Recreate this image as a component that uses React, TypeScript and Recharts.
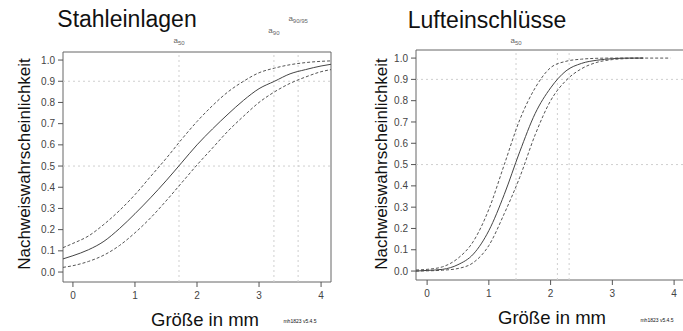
import React from 'react';
import { LineChart, Line, XAxis, YAxis, ReferenceLine, ReferenceArea } from 'recharts';

// Stahleinlagen (left panel)
const stahlX = [-0.16, 0, 0.25, 0.5, 0.75, 1, 1.25, 1.5, 1.75, 2, 2.25, 2.5, 2.75, 3, 3.25, 3.5, 3.75, 4, 4.16];
const stahlFit = [0.062, 0.077, 0.105, 0.145, 0.205, 0.275, 0.35, 0.43, 0.515, 0.6, 0.675, 0.745, 0.81, 0.865, 0.9, 0.935, 0.955, 0.972, 0.98];
const stahlUpper = [0.115, 0.135, 0.17, 0.225, 0.29, 0.365, 0.45, 0.535, 0.625, 0.71, 0.785, 0.85, 0.9, 0.94, 0.962, 0.978, 0.988, 0.994, 0.996];
const stahlLower = [0.022, 0.03, 0.05, 0.08, 0.125, 0.185, 0.255, 0.335, 0.42, 0.505, 0.585, 0.665, 0.735, 0.8, 0.85, 0.89, 0.92, 0.945, 0.955];
const stahlMarks = [
  { x: 1.71, sub: '50', lift: 9 },
  { x: 3.24, sub: '90', lift: 19 },
  { x: 3.63, sub: '90/95', lift: 31 },
];

// Lufteinschlüsse (right panel)
const luftX = [-0.18, 0, 0.25, 0.5, 0.75, 1, 1.25, 1.5, 1.75, 2, 2.25, 2.5, 2.75, 3, 3.25, 3.5, 3.94];
const luftFit = [0.0, 0.003, 0.008, 0.03, 0.08, 0.19, 0.36, 0.56, 0.74, 0.86, 0.94, 0.975, 0.99, 0.997, 1.0, 1.0, null];
const luftUpper = [0.005, 0.008, 0.02, 0.06, 0.14, 0.29, 0.5, 0.71, 0.86, 0.955, 0.985, 0.995, 0.999, 1.0, 1.0, 1.0, 1.0];
const luftLower = [0.0, 0.001, 0.004, 0.012, 0.04, 0.12, 0.27, 0.44, 0.64, 0.8, 0.895, 0.95, 0.98, 0.993, 0.998, 1.0, null];
const luftMarks = [
  { x: 1.44, sub: '50', lift: 7 },
  { x: 2.11, sub: '', lift: 0 },
  { x: 2.3, sub: '', lift: 0 },
];

const xTicks = [0, 1, 2, 3, 4];
const yTicks = [0, 0.1, 0.2, 0.3, 0.4, 0.5, 0.6, 0.7, 0.8, 0.9, 1.0];
const hLines = [0.9, 0.5];

const font = '"Liberation Sans", Arial, sans-serif';

const MarkLabel = (props: any) => {
  const { viewBox, sub, lift } = props;
  if (!sub) return null;
  return (
    <text x={viewBox.x} y={viewBox.y - lift} textAnchor="middle" fill="#666" fontFamily={font} fontSize={8}>
      a<tspan fontSize={6} dy={2}>{sub}</tspan>
    </text>
  );
};

const Panel = (props: any) => {
  const { xs, fit, upper, lower, marks, width, margin, yAxisWidth, xDomain, yDomain } = props;
  const rows = xs.map((x: number, i: number) => ({ x, fit: fit[i], upper: upper[i], lower: lower[i] }));
  return (
    <LineChart width={width} height={331} data={rows} margin={margin}>
      <XAxis
        dataKey="x"
        type="number"
        domain={xDomain}
        ticks={xTicks}
        allowDataOverflow
        height={30}
        axisLine={false}
        tickSize={5}
        tickMargin={5}
        tickLine={{ stroke: '#555' }}
        tick={{ fill: '#444', fontSize: 10, fontFamily: font }}
      />
      <YAxis
        type="number"
        domain={yDomain}
        ticks={yTicks}
        allowDataOverflow
        width={yAxisWidth}
        axisLine={false}
        tickSize={5}
        tickMargin={3}
        tickLine={{ stroke: '#555' }}
        tickFormatter={(v: number) => v.toFixed(1)}
        tick={{ fill: '#444', fontSize: 10, fontFamily: font }}
      />
      {hLines.map((y) => (
        <ReferenceLine key={y} y={y} stroke="#cfcfcf" strokeDasharray="2 3" />
      ))}
      {marks.map((m: any) => (
        <ReferenceLine
          key={m.x}
          x={m.x}
          stroke="#cfcfcf"
          strokeDasharray="2 3"
          label={<MarkLabel sub={m.sub} lift={m.lift} />}
        />
      ))}
      <Line dataKey="upper" type="monotone" stroke="#555" strokeWidth={1} strokeDasharray="3 2" dot={false} isAnimationActive={false} />
      <Line dataKey="lower" type="monotone" stroke="#555" strokeWidth={1} strokeDasharray="3 2" dot={false} isAnimationActive={false} />
      <Line dataKey="fit" type="monotone" stroke="#444" strokeWidth={1} dot={false} isAnimationActive={false} />
      <ReferenceArea
        x1={xDomain[0]}
        x2={xDomain[1]}
        y1={yDomain[0]}
        y2={yDomain[1]}
        fill="none"
        stroke="#666"
        strokeWidth={1}
        ifOverflow="visible"
      />
    </LineChart>
  );
};

const Text = ({ x, y, size, rotate, children }: any) => (
  <div
    style={{
      position: 'absolute',
      left: x,
      top: y,
      transform: `translate(-50%, -50%)${rotate ? ' rotate(-90deg)' : ''}`,
      whiteSpace: 'nowrap',
      fontFamily: font,
      fontSize: size,
      color: '#111',
      lineHeight: 1,
    }}
  >
    {children}
  </div>
);

export default function App() {
  return (
    <div style={{ position: 'fixed', left: 0, top: 0, width: 683, height: 331, overflow: 'hidden', background: '#fff' }}>
      <div style={{ position: 'absolute', left: 0, top: 0 }}>
        <Panel
          xs={stahlX}
          fit={stahlFit}
          upper={stahlUpper}
          lower={stahlLower}
          marks={stahlMarks}
          width={340}
          margin={{ top: 52, right: 9, bottom: 19, left: 0 }}
          yAxisWidth={63}
          xDomain={[-0.16, 4.16]}
          yDomain={[-0.047, 1.038]}
        />
      </div>
      <div style={{ position: 'absolute', left: 340, top: 0 }}>
        <Panel
          xs={luftX}
          fit={luftFit}
          upper={luftUpper}
          lower={luftLower}
          marks={luftMarks}
          width={360}
          margin={{ top: 50, right: 8, bottom: 21, left: 0 }}
          yAxisWidth={76}
          xDomain={[-0.18, 4.29]}
          yDomain={[-0.042, 1.038]}
        />
      </div>
      <Text x={127} y={19} size={23}>Stahleinlagen</Text>
      <Text x={487} y={20} size={23}>Lufteinschlüsse</Text>
      <Text x={24} y={164} size={17} rotate>Nachweiswahrscheinlichkeit</Text>
      <Text x={381} y={164} size={17} rotate>Nachweiswahrscheinlichkeit</Text>
      <Text x={205} y={320} size={18.5}>Größe in mm</Text>
      <Text x={552} y={318} size={18.5}>Größe in mm</Text>
      <Text x={300} y={321} size={5}>mh1823 v5.4.5</Text>
      <Text x={657} y={320} size={5}>mh1823 v5.4.5</Text>
    </div>
  );
}
